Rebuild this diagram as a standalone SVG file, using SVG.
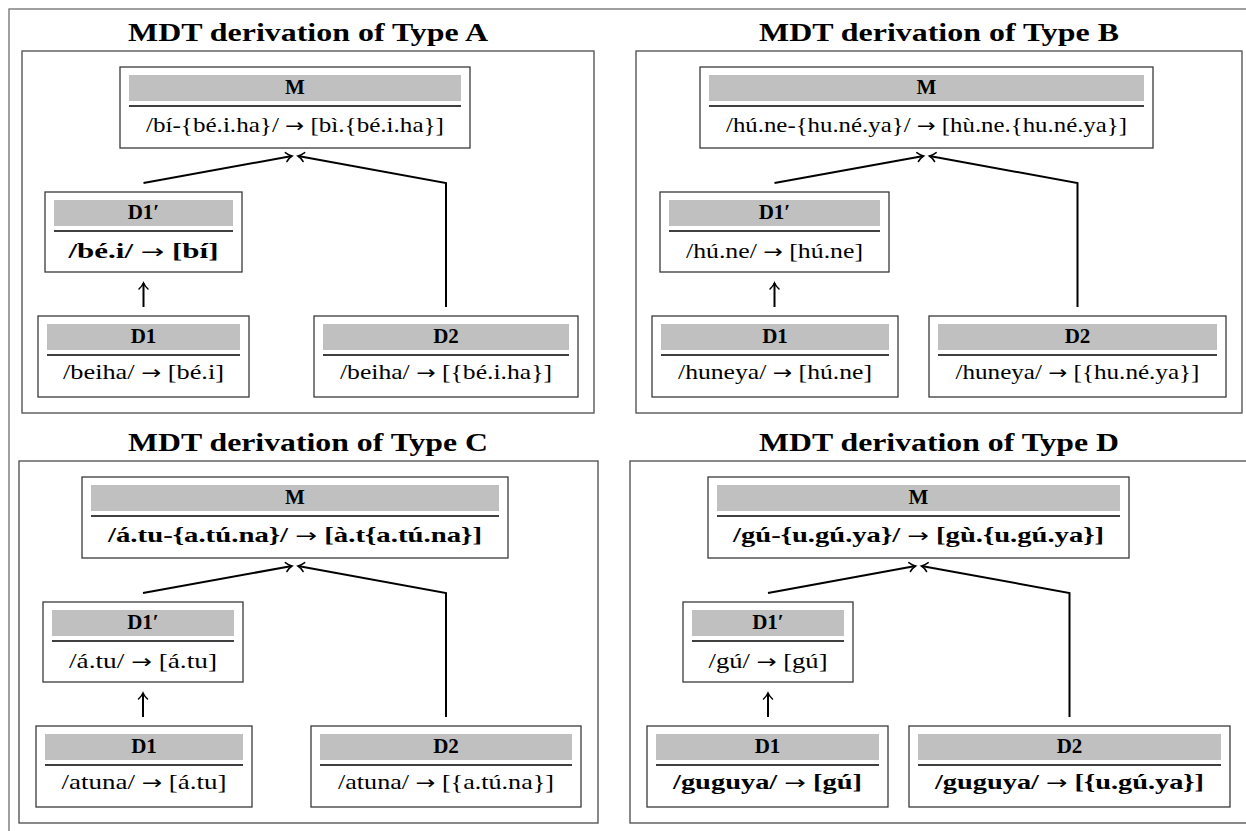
<svg xmlns="http://www.w3.org/2000/svg" width="1246" height="831" viewBox="0 0 1246 831">
<style>
  .outer{fill:none;stroke:#6e6e6e;stroke-width:1.3}
  .panel{fill:none;stroke:#4a4a4a;stroke-width:1.3}
  .box{fill:#fff;stroke:#3a3a3a;stroke-width:1.3}
  .band{fill:#c0c0c0;stroke:none}
  .rule{stroke:#000;stroke-width:1.4}
  .title{font-family:"Liberation Serif",serif;font-weight:bold;font-size:25px;text-anchor:middle;fill:#000}
  .hdr{font-family:"Liberation Serif",serif;font-weight:bold;font-size:21px;text-anchor:middle;fill:#000}
  .body{font-family:"Liberation Serif",serif;font-size:21px;text-anchor:middle;fill:#000}
  .bb{font-family:"Liberation Serif",serif;font-weight:bold;font-size:21px;text-anchor:middle;fill:#000}
  .ar{font-family:"DejaVu Sans",sans-serif;font-weight:normal;font-size:19px}
  .conn{fill:none;stroke:#000;stroke-width:2;stroke-linejoin:miter}
</style>
<defs>
  <marker id="to" markerUnits="userSpaceOnUse" viewBox="-7 -6 8 12" markerWidth="8" markerHeight="12" refX="0" refY="0" orient="auto" overflow="visible">
    <path d="M -6,-4.5 C -3.5,-1.8 -1.5,-0.6 0,0 C -1.5,0.6 -3.5,1.8 -6,4.5" fill="none" stroke="#000" stroke-width="1.5" stroke-linecap="round"/>
  </marker>
</defs>
<rect class="outer" x="9" y="9" width="1260" height="840"/>

<!-- Panel A -->
<g id="panelA">
  <rect class="panel" x="22" y="51" width="572" height="362"/>
  <text class="title" x="308" y="41" textLength="360" lengthAdjust="spacingAndGlyphs">MDT derivation of Type A</text>
</g>
<g id="A-M">
  <rect class="box" x="120" y="67" width="350" height="81"/>
  <rect class="band" x="129" y="75" width="332" height="26"/>
  <line class="rule" x1="129" y1="106" x2="461" y2="106"/>
  <text class="hdr" x="295" y="94">M</text>
  <text class="body" x="295" y="132" textLength="298" lengthAdjust="spacingAndGlyphs">/bí-{bé.i.ha}/ <tspan class="ar">→</tspan> [bì.{bé.i.ha}]</text>
</g>
<g id="A-D1p">
  <rect class="box" x="45" y="192" width="197" height="80"/>
  <rect class="band" x="54" y="200" width="179" height="26"/>
  <line class="rule" x1="54" y1="231" x2="233" y2="231"/>
  <text class="hdr" x="143.5" y="219">D1′</text>
  <text class="bb" x="143.5" y="258" textLength="150" lengthAdjust="spacingAndGlyphs">/bé.i/ <tspan class="ar">→</tspan> [bí]</text>
</g>
<g id="A-D1">
  <rect class="box" x="38" y="316" width="211" height="81"/>
  <rect class="band" x="47" y="324" width="193" height="26"/>
  <line class="rule" x1="47" y1="355" x2="240" y2="355"/>
  <text class="hdr" x="143.5" y="343">D1</text>
  <text class="body" x="143.5" y="379" textLength="161" lengthAdjust="spacingAndGlyphs">/beiha/ <tspan class="ar">→</tspan> [bé.i]</text>
</g>
<g id="A-D2">
  <rect class="box" x="314" y="316" width="264" height="81"/>
  <rect class="band" x="323" y="324" width="246" height="26"/>
  <line class="rule" x1="323" y1="355" x2="569" y2="355"/>
  <text class="hdr" x="446" y="343">D2</text>
  <text class="body" x="446" y="379" textLength="212" lengthAdjust="spacingAndGlyphs">/beiha/ <tspan class="ar">→</tspan> [{bé.i.ha}]</text>
</g>

<!-- Panel B -->
<g id="panelB">
  <rect class="panel" x="636" y="51" width="606" height="362"/>
  <text class="title" x="939" y="41" textLength="360" lengthAdjust="spacingAndGlyphs">MDT derivation of Type B</text>
</g>
<g id="B-M">
  <rect class="box" x="700" y="67" width="453" height="81"/>
  <rect class="band" x="709" y="75" width="435" height="26"/>
  <line class="rule" x1="709" y1="106" x2="1144" y2="106"/>
  <text class="hdr" x="926.5" y="94">M</text>
  <text class="body" x="926.5" y="132" textLength="401" lengthAdjust="spacingAndGlyphs">/hú.ne-{hu.né.ya}/ <tspan class="ar">→</tspan> [hù.ne.{hu.né.ya}]</text>
</g>
<g id="B-D1p">
  <rect class="box" x="660" y="192" width="229" height="80"/>
  <rect class="band" x="669" y="200" width="211" height="26"/>
  <line class="rule" x1="669" y1="231" x2="880" y2="231"/>
  <text class="hdr" x="774.5" y="219">D1′</text>
  <text class="body" x="774.5" y="258" textLength="177" lengthAdjust="spacingAndGlyphs">/hú.ne/ <tspan class="ar">→</tspan> [hú.ne]</text>
</g>
<g id="B-D1">
  <rect class="box" x="652" y="316" width="246" height="81"/>
  <rect class="band" x="661" y="324" width="228" height="26"/>
  <line class="rule" x1="661" y1="355" x2="889" y2="355"/>
  <text class="hdr" x="775" y="343">D1</text>
  <text class="body" x="775" y="379" textLength="194" lengthAdjust="spacingAndGlyphs">/huneya/ <tspan class="ar">→</tspan> [hú.ne]</text>
</g>
<g id="B-D2">
  <rect class="box" x="929" y="316" width="297" height="81"/>
  <rect class="band" x="938" y="324" width="279" height="26"/>
  <line class="rule" x1="938" y1="355" x2="1217" y2="355"/>
  <text class="hdr" x="1077.5" y="343">D2</text>
  <text class="body" x="1077.5" y="379" textLength="244" lengthAdjust="spacingAndGlyphs">/huneya/ <tspan class="ar">→</tspan> [{hu.né.ya}]</text>
</g>

<!-- Panel C -->
<g id="panelC">
  <rect class="panel" x="19" y="461" width="579" height="362"/>
  <text class="title" x="308" y="451" textLength="360" lengthAdjust="spacingAndGlyphs">MDT derivation of Type C</text>
</g>
<g id="C-M">
  <rect class="box" x="82" y="477" width="426" height="81"/>
  <rect class="band" x="91" y="485" width="408" height="26"/>
  <line class="rule" x1="91" y1="516" x2="499" y2="516"/>
  <text class="hdr" x="295" y="504">M</text>
  <text class="bb" x="295" y="542" textLength="374" lengthAdjust="spacingAndGlyphs">/á.tu-{a.tú.na}/ <tspan class="ar">→</tspan> [à.t{a.tú.na}]</text>
</g>
<g id="C-D1p">
  <rect class="box" x="43" y="602" width="200" height="80"/>
  <rect class="band" x="52" y="610" width="182" height="26"/>
  <line class="rule" x1="52" y1="641" x2="234" y2="641"/>
  <text class="hdr" x="143" y="629">D1′</text>
  <text class="body" x="143" y="668" textLength="148" lengthAdjust="spacingAndGlyphs">/á.tu/ <tspan class="ar">→</tspan> [á.tu]</text>
</g>
<g id="C-D1">
  <rect class="box" x="36" y="726" width="216" height="81"/>
  <rect class="band" x="45" y="734" width="198" height="26"/>
  <line class="rule" x1="45" y1="765" x2="243" y2="765"/>
  <text class="hdr" x="144" y="753">D1</text>
  <text class="body" x="144" y="789" textLength="165" lengthAdjust="spacingAndGlyphs">/atuna/ <tspan class="ar">→</tspan> [á.tu]</text>
</g>
<g id="C-D2">
  <rect class="box" x="311" y="726" width="270" height="81"/>
  <rect class="band" x="320" y="734" width="252" height="26"/>
  <line class="rule" x1="320" y1="765" x2="572" y2="765"/>
  <text class="hdr" x="446" y="753">D2</text>
  <text class="body" x="446" y="789" textLength="216" lengthAdjust="spacingAndGlyphs">/atuna/ <tspan class="ar">→</tspan> [{a.tú.na}]</text>
</g>

<!-- Panel D -->
<g id="panelD">
  <rect class="panel" x="630" y="461" width="640" height="362"/>
  <text class="title" x="939" y="451" textLength="360" lengthAdjust="spacingAndGlyphs">MDT derivation of Type D</text>
</g>
<g id="D-M">
  <rect class="box" x="708" y="477" width="421" height="81"/>
  <rect class="band" x="717" y="485" width="403" height="26"/>
  <line class="rule" x1="717" y1="516" x2="1120" y2="516"/>
  <text class="hdr" x="918.5" y="504">M</text>
  <text class="bb" x="918.5" y="542" textLength="371" lengthAdjust="spacingAndGlyphs">/gú-{u.gú.ya}/ <tspan class="ar">→</tspan> [gù.{u.gú.ya}]</text>
</g>
<g id="D-D1p">
  <rect class="box" x="683" y="602" width="170" height="80"/>
  <rect class="band" x="692" y="610" width="152" height="26"/>
  <line class="rule" x1="692" y1="641" x2="844" y2="641"/>
  <text class="hdr" x="768" y="629">D1′</text>
  <text class="body" x="768" y="668" textLength="119" lengthAdjust="spacingAndGlyphs">/gú/ <tspan class="ar">→</tspan> [gú]</text>
</g>
<g id="D-D1">
  <rect class="box" x="647" y="726" width="241" height="81"/>
  <rect class="band" x="656" y="734" width="223" height="26"/>
  <line class="rule" x1="656" y1="765" x2="879" y2="765"/>
  <text class="hdr" x="767.5" y="753">D1</text>
  <text class="bb" x="767.5" y="789" textLength="189" lengthAdjust="spacingAndGlyphs">/guguya/ <tspan class="ar">→</tspan> [gú]</text>
</g>
<g id="D-D2">
  <rect class="box" x="909" y="726" width="321" height="81"/>
  <rect class="band" x="918" y="734" width="303" height="26"/>
  <line class="rule" x1="918" y1="765" x2="1221" y2="765"/>
  <text class="hdr" x="1069.5" y="753">D2</text>
  <text class="bb" x="1069.5" y="789" textLength="269" lengthAdjust="spacingAndGlyphs">/guguya/ <tspan class="ar">→</tspan> [{u.gú.ya}]</text>
</g>

<g id="connectors">
  <!-- A -->
  <path class="conn" d="M 143.5,183 L 292,156" marker-end="url(#to)"/>
  <path class="conn" d="M 446,307 L 446,183 L 298,156" marker-end="url(#to)"/>
  <path class="conn" d="M 143.5,307 L 143.5,283" marker-end="url(#to)"/>
  <!-- B -->
  <path class="conn" d="M 774.5,183 L 923.5,156" marker-end="url(#to)"/>
  <path class="conn" d="M 1077.5,307 L 1077.5,183 L 929.5,156" marker-end="url(#to)"/>
  <path class="conn" d="M 774.5,307 L 774.5,283" marker-end="url(#to)"/>
  <!-- C -->
  <path class="conn" d="M 143,593 L 292,566" marker-end="url(#to)"/>
  <path class="conn" d="M 446,717 L 446,593 L 298,566" marker-end="url(#to)"/>
  <path class="conn" d="M 143,717 L 143,693" marker-end="url(#to)"/>
  <!-- D -->
  <path class="conn" d="M 768,593 L 915.5,566" marker-end="url(#to)"/>
  <path class="conn" d="M 1069.5,717 L 1069.5,593 L 921.5,566" marker-end="url(#to)"/>
  <path class="conn" d="M 768,717 L 768,693" marker-end="url(#to)"/>
</g>
</svg>
